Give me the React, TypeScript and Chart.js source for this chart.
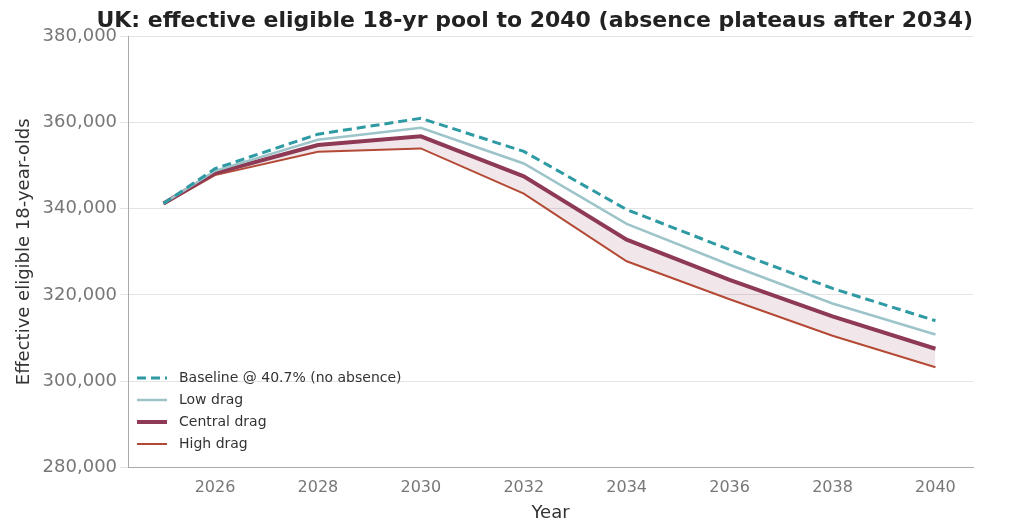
import React, { useEffect, useRef } from "react";
import { Chart, registerables } from "chart.js";
Chart.register(...registerables);

const years = [2025, 2026, 2028, 2030, 2032, 2034, 2036, 2038, 2040];
const baseline = [341.2, 349.3, 357.3, 361.0, 353.3, 339.8, 330.5, 321.5, 314.0];
const lowDrag = [341.2, 348.8, 356.0, 358.8, 350.5, 336.5, 327.0, 318.0, 310.8];
const centralDrag = [341.2, 348.3, 354.8, 356.8, 347.5, 332.8, 323.5, 315.0, 307.5];
const highDrag = [341.0, 347.8, 353.2, 354.0, 343.5, 327.8, 319.0, 310.5, 303.2];
const xTicks = [2026, 2028, 2030, 2032, 2034, 2036, 2038, 2040];

const pts = (v: number[]) => years.map((x, i) => ({ x, y: v[i] * 1000 }));
const FONT = "DejaVu Sans";

const legendPlugin = {
  id: "customLegend",
  afterDraw(chart: any) {
    const ctx = chart.ctx;
    const items = chart.data.datasets;
    const x0 = 137, y0 = 378, dy = 22;
    ctx.save();
    items.forEach((ds: any, i: number) => {
      const y = y0 + i * dy;
      ctx.beginPath();
      ctx.strokeStyle = ds.borderColor;
      ctx.lineWidth = ds.borderWidth;
      ctx.setLineDash(ds.borderDash || []);
      ctx.moveTo(x0, y);
      ctx.lineTo(x0 + 30, y);
      ctx.stroke();
      ctx.setLineDash([]);
      ctx.fillStyle = "#333";
      ctx.font = `14px '${FONT}'`;
      ctx.textBaseline = "middle";
      ctx.fillText(ds.label, x0 + 42, y);
    });
    ctx.restore();
  },
};

export default function App() {
  const ref = useRef<HTMLCanvasElement>(null);
  useEffect(() => {
    document.body.style.margin = "0";
    const chart = new Chart(ref.current!, {
      type: "line",
      data: {
        datasets: [
          { label: "Baseline @ 40.7% (no absence)", data: pts(baseline), borderColor: "#2e9aa3", borderWidth: 3, borderDash: [9, 5], pointRadius: 0, fill: false },
          { label: "Low drag", data: pts(lowDrag), borderColor: "#9cc4c9", borderWidth: 2.5, pointRadius: 0, fill: false },
          { label: "Central drag", data: pts(centralDrag), borderColor: "#8e3a55", borderWidth: 4, pointRadius: 0, fill: false },
          { label: "High drag", data: pts(highDrag), borderColor: "#b44a35", borderWidth: 2, pointRadius: 0, fill: 2, backgroundColor: "rgba(142,58,85,0.12)" },
        ] as any,
      },
      options: {
        animation: false,
        responsive: false,
        layout: { padding: { top: 0, right: 51, left: 10, bottom: 2 } },
        plugins: {
          legend: { display: false },
          tooltip: { enabled: false },
          title: {
            display: true,
            text: "UK: effective eligible 18-yr pool to 2040 (absence plateaus after 2034)",
            font: { family: FONT, size: 22, weight: "bold" },
            color: "#222",
            padding: { top: 8, bottom: 2 },
            align: "end",
          },
        },
        scales: {
          x: {
            type: "linear",
            min: 2024.31,
            max: 2040.73,
            afterBuildTicks: (s: any) => { s.ticks = xTicks.map((v) => ({ value: v })); },
            ticks: { color: "#777", font: { family: FONT, size: 16 }, callback: (v: any) => String(v) },
            grid: { display: false },
            border: { color: "#aaa" },
            title: { display: true, text: "Year", color: "#333", font: { family: FONT, size: 18 }, padding: { top: 2 } },
          },
          y: {
            min: 280000,
            max: 380000,
            ticks: { stepSize: 20000, color: "#777", font: { family: FONT, size: 18 }, callback: (v: any) => Number(v).toLocaleString("en-US") },
            grid: { color: "#e4e4e4" },
            border: { color: "#aaa" },
            title: { display: true, text: "Effective eligible 18-year-olds", color: "#333", font: { family: FONT, size: 18 } },
          },
        },
      } as any,
      plugins: [legendPlugin],
    });
    return () => chart.destroy();
  }, []);
  return <canvas ref={ref} width={1024} height={530} />;
}
